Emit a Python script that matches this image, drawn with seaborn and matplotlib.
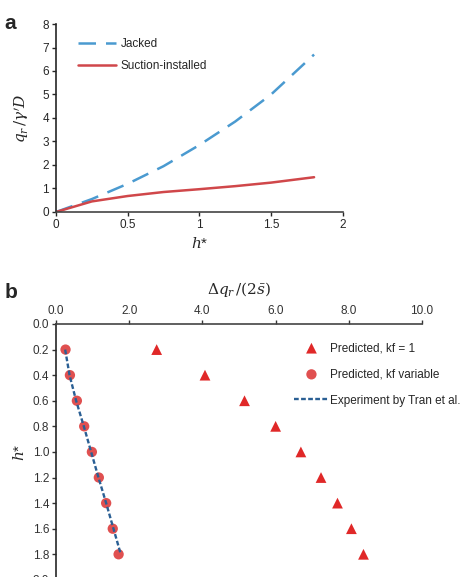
import numpy as np
import pandas as pd
import seaborn as sns
import matplotlib.pyplot as plt

# panel a
h_a = [0, 0.25, 0.5, 0.75, 1.0, 1.25, 1.5, 1.8]
jacked = [0, 0.55, 1.2, 1.95, 2.85, 3.85, 5.0, 6.7]
suction = [0, 0.45, 0.68, 0.85, 0.97, 1.1, 1.25, 1.48]

# panel b
h_b = [0.2, 0.4, 0.6, 0.8, 1.0, 1.2, 1.4, 1.6, 1.8]
pred_kf1 = [2.75, 4.07, 5.15, 6.0, 6.69, 7.24, 7.69, 8.07, 8.4]
pred_kfvar = [0.26, 0.38, 0.57, 0.77, 0.98, 1.17, 1.37, 1.55, 1.71]
experiment = [0.25, 0.37, 0.55, 0.76, 0.96, 1.16, 1.37, 1.57, 1.77]

sns.set_theme(style="ticks")
plt.rcParams["font.family"] = ["Liberation Sans", "DejaVu Sans"]
plt.rcParams["mathtext.fontset"] = "dejavuserif"

fig = plt.figure(figsize=(4.61, 5.77), dpi=100)
ax1 = fig.add_axes([0.1215, 0.6326, 0.622, 0.3258])
ax2 = fig.add_axes([0.1215, -0.005, 0.794, 0.4435])

df_a = pd.DataFrame({"h": h_a, "Jacked": jacked, "Suction-installed": suction})
sns.lineplot(data=df_a, x="h", y="Jacked", ax=ax1, color="#4a9ad0", lw=1.8,
             label="Jacked")
ax1.lines[-1].set_dashes([7, 4])
sns.lineplot(data=df_a, x="h", y="Suction-installed", ax=ax1, color="#d0474a",
             lw=1.8, label="Suction-installed")
ax1.set_xlim(0, 2)
ax1.set_ylim(0, 8)
ax1.set_xticks([0, 0.5, 1, 1.5, 2])
ax1.set_xticklabels(["0", "0.5", "1", "1.5", "2"])
ax1.set_yticks(range(0, 9))
ax1.set_xlabel(r"$h$*", fontsize=11)
ax1.set_ylabel(r"$q_r\,/\gamma'D$", fontsize=11, labelpad=8)
ax1.spines[["top", "right"]].set_visible(False)
ax1.spines[["left", "bottom"]].set_linewidth(1.2)
ax1.spines["bottom"].set_color("#444444")
ax1.tick_params(labelsize=8.5, length=3, width=1, pad=2)
ax1.legend(loc="upper left", bbox_to_anchor=(0.04, 0.98), frameon=False,
           fontsize=8.5, handlelength=3.2, handletextpad=0.4, labelspacing=0.8)
fig.text(0.01, 0.975, "a", fontsize=15, fontweight="bold", va="top")

df_b = pd.DataFrame({"h": h_b, "kf1": pred_kf1, "kfvar": pred_kfvar, "exp": experiment})
sns.lineplot(data=df_b, x="exp", y="h", ax=ax2, sort=False, orient="y",
             color="#2a5f94", lw=1.7, label="Experiment by Tran et al.")
ax2.lines[-1].set_dashes([2, 1])
sns.scatterplot(data=df_b, x="kf1", y="h", ax=ax2, marker="^", s=60,
                color="#e02828", edgecolor="none", label="Predicted, kf = 1")
sns.scatterplot(data=df_b, x="kfvar", y="h", ax=ax2, marker="o", s=55,
                color="#e05050", edgecolor="none", label="Predicted, kf variable")
ax2.set_xlim(0, 10)
ax2.set_ylim(2.0, 0)
ax2.set_xticks(np.arange(0, 10.1, 2))
ax2.set_xticklabels([f"{v:.1f}" for v in np.arange(0, 10.1, 2)])
ax2.set_yticks(np.arange(0, 2.01, 0.2))
ax2.set_yticklabels([f"{v:.1f}" for v in np.arange(0, 2.01, 0.2)])
ax2.xaxis.tick_top()
ax2.xaxis.set_label_position("top")
ax2.set_xlabel(r"$\Delta q_r\,/(2\bar{s})$", fontsize=11, labelpad=8)
ax2.set_ylabel(r"$h$*", fontsize=11)
ax2.spines[["bottom", "right"]].set_visible(False)
ax2.spines[["left", "top"]].set_linewidth(1.2)
ax2.spines["top"].set_color("#444444")
ax2.tick_params(labelsize=8.5, length=3, width=1, pad=2, colors="#333333")
handles, labels = ax2.get_legend_handles_labels()
order = [labels.index("Predicted, kf = 1"), labels.index("Predicted, kf variable"),
         labels.index("Experiment by Tran et al.")]
ax2.legend([handles[i] for i in order], [labels[i] for i in order],
           loc="upper right", bbox_to_anchor=(1.135, 0.97), frameon=False,
           fontsize=8.5, handlelength=3.0, handletextpad=0.1, labelspacing=1.2)
fig.text(0.01, 0.51, "b", fontsize=15, fontweight="bold", va="top")

fig.savefig("out.png", dpi=100)
